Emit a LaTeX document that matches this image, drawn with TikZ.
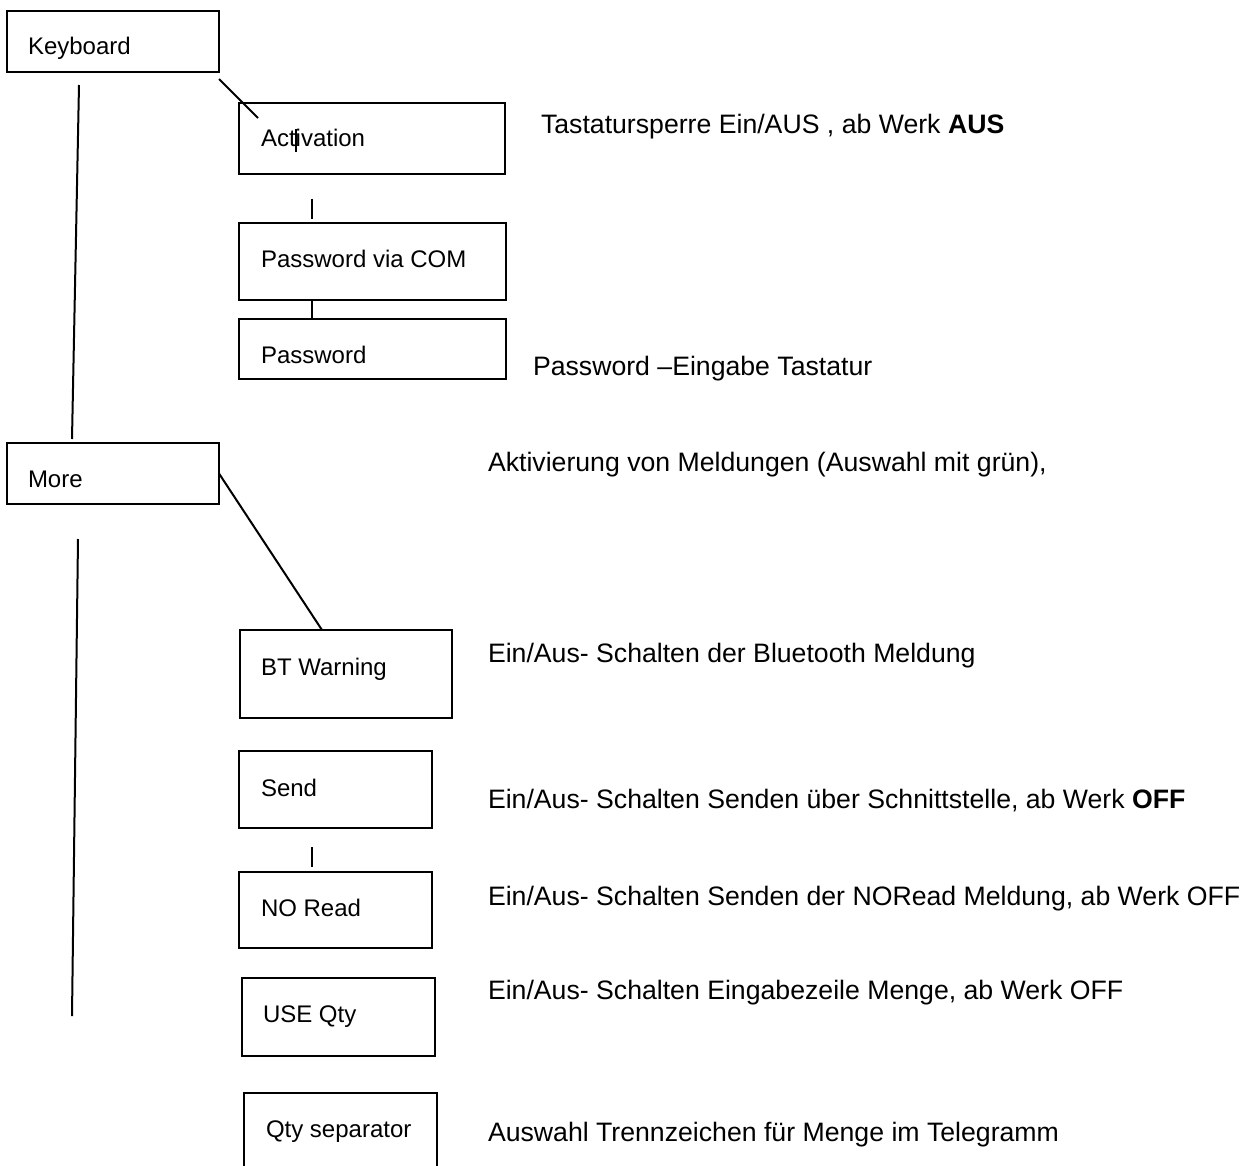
\documentclass[tikz,border=0pt]{standalone}
\usepackage{fontspec}
\setmainfont{Liberation Sans}
\usetikzlibrary{calc}
\tikzset{
  box/.style={draw, line width=1pt, inner sep=0pt, outer sep=0pt, anchor=north west},
  txt/.style={anchor=base west, inner sep=0pt, outer sep=0pt, font=\fontsize{12pt}{14pt}\selectfont},
  desc/.style={anchor=base west, inner sep=0pt, outer sep=0pt, font=\fontsize{13.33pt}{16pt}\selectfont},
  conn/.style={line width=1pt}
}
\newcommand\mybox[5]{\node[box, minimum width=#4*0.5pt, minimum height=#5*0.5pt] (#1) at (#2,#3) {};}
\begin{document}
\begin{tikzpicture}[x=0.5pt, y=-0.5pt]
\useasboundingbox (0,0) rectangle (1257,1166);
\clip (0,0) rectangle (1257,1166);
\fill[white] (0,0) rectangle (1257,1166);
% boxes
\mybox{kb}{7}{11}{212}{61}
\mybox{act}{239}{103}{266}{71}
\mybox{pvc}{239}{223}{267}{77}
\mybox{pw}{239}{319}{267}{60}
\mybox{more}{7}{443}{212}{61}
\mybox{bt}{240}{630}{212}{88}
\mybox{send}{239}{751}{193}{77}
\mybox{nr}{239}{872}{193}{76}
\mybox{uq}{242}{978}{193}{78}
\mybox{qs}{244}{1093}{193}{110}
% box texts
\node[txt] (kbT) at (28,55) {Keyboard};
\node[txt] (actT) at (261,147) {Activation};
\node[txt] (pvcT) at (261,267) {Password via COM};
\node[txt] (pwT) at (261,363) {Password};
\node[txt] (moreT) at (28,487) {More};
\node[txt] (btT) at (261,675) {BT Warning};
\node[txt] (sendT) at (261,796) {Send};
\node[txt] (nrT) at (261,916) {NO Read};
\node[txt] (uqT) at (263,1022) {USE Qty};
\node[txt] (qsT) at (266,1137) {Qty separator};
% descriptions
\node[desc] (d1) at (541,134) {Tastatursperre Ein/AUS , ab Werk \textbf{AUS}};
\node[desc] (d2) at (533,375) {Password –Eingabe Tastatur};
\node[desc] (d3) at (488,471) {Aktivierung von Meldungen (Auswahl mit grün),};
\node[desc] (d4) at (488,662) {Ein/Aus- Schalten der Bluetooth Meldung};
\node[desc] (d5) at (488,808) {Ein/Aus- Schalten Senden über Schnittstelle, ab Werk \textbf{OFF}};
\node[desc] (d6) at (488,905) {Ein/Aus- Schalten Senden der NORead Meldung, ab Werk OFF};
\node[desc] (d7) at (488,999) {Ein/Aus- Schalten Eingabezeile Menge, ab Werk OFF};
\node[desc] (d8) at (488,1141) {Auswahl Trennzeichen für Menge im Telegramm};
% connectors
\draw[conn] ($(kb.south east)+(0,7)$) -- ($(act.north west)+(19,15)$);
\draw[conn] ($(kb.south west)+(72,13)$) -- ($(more.north west)+(65,-4)$);
\draw[conn] (more.east) -- ($(bt.north west)+(82,0)$);
\coordinate (lowend) at (72,1016);
\draw[conn] ($(more.south west)+(71,35)$) -- (lowend);
\draw[conn] ($(pvc.north west)+(73,-24)$) -- ($(pvc.north west)+(73,-4)$);
\draw[conn] ($(pvc.south west)+(73,0)$) -- ($(pw.north west)+(73,0)$);
\draw[conn] ($(nr.north west)+(73,-25)$) -- ($(nr.north west)+(73,-5)$);
% cursor mark inside Activation
\draw[conn] ($(act.north west)+(57,26)$) -- ($(act.north west)+(57,49)$);
\end{tikzpicture}
\end{document}
